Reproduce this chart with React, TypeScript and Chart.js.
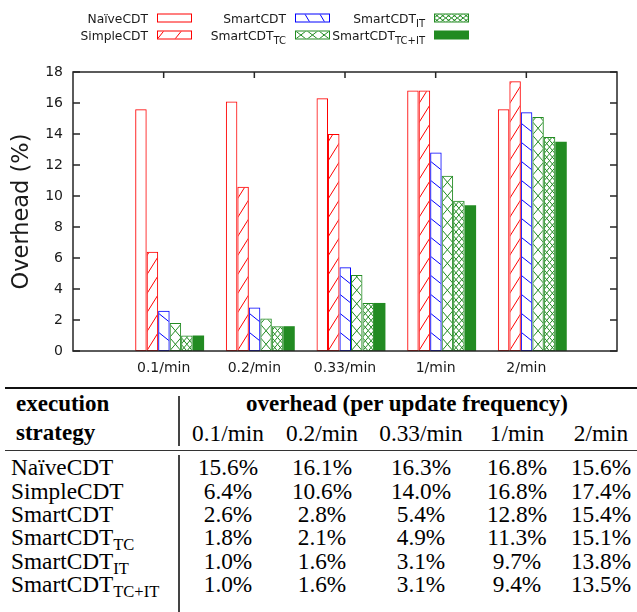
import React, { useEffect, useRef } from 'react';
import { Chart, registerables } from 'chart.js';

Chart.register(...registerables);

// ---------------- data ----------------
const categories = ['0.1/min', '0.2/min', '0.33/min', '1/min', '2/min'];
const naiveCDT = [15.6, 16.1, 16.3, 16.8, 15.6];
const simpleCDT = [6.4, 10.6, 14.0, 16.8, 17.4];
const smartCDT = [2.6, 2.8, 5.4, 12.8, 15.4];
const smartCDT_TC = [1.8, 2.1, 4.9, 11.3, 15.1];
const smartCDT_IT = [1.0, 1.6, 3.1, 9.7, 13.8];
const smartCDT_TCIT = [1.0, 1.6, 3.1, 9.4, 13.5];
const seriesNames = ['NaïveCDT', 'SimpleCDT', 'SmartCDT', 'SmartCDT', 'SmartCDT', 'SmartCDT'];
const seriesSubs = ['', '', '', 'TC', 'IT', 'TC+IT'];
const yTickValues = [0, 2, 4, 6, 8, 10, 12, 14, 16, 18];
const yAxisTitle = 'Overhead (%)';
const tableLeftHeader = ['execution', 'strategy'];
const tableTopHeader = 'overhead (per update frequency)';

// ---------------- styles ----------------
const RED = '#ff0000';
const BLUE = '#0000ff';
const GREEN = '#228b22';
const AXIS = '#262626';
const TEXT = '#1a1a1a';
const SANS = '"DejaVu Sans", Verdana, sans-serif';
const SERIF = '"Liberation Serif", "Times New Roman", serif';

type Hatch =
  | { kind: 'none' }
  | { kind: 'solid' }
  | { kind: 'lines'; m: number; gap: number }
  | { kind: 'cross'; cells: number; p: number };

const seriesValues = [naiveCDT, simpleCDT, smartCDT, smartCDT_TC, smartCDT_IT, smartCDT_TCIT];
const seriesColors = [RED, RED, BLUE, GREEN, GREEN, GREEN];
const barHatches: Hatch[] = [
  { kind: 'none' },
  { kind: 'lines', m: 1.6, gap: 19 },
  { kind: 'lines', m: -0.8, gap: 19 },
  { kind: 'cross', cells: 1, p: 13.5 },
  { kind: 'cross', cells: 2, p: 6.8 },
  { kind: 'solid' },
];
const legendHatches: Hatch[] = [
  { kind: 'none' },
  { kind: 'lines', m: 1.25, gap: 22 },
  { kind: 'lines', m: -1.67, gap: 25 },
  { kind: 'cross', cells: 3, p: 9 },
  { kind: 'cross', cells: 6, p: 4.5 },
  { kind: 'solid' },
];

const CLUSTER_SHIFT = 0.066;

function paintHatch(ctx: CanvasRenderingContext2D, h: Hatch, color: string, L: number, T: number, R: number, B: number) {
  if (h.kind === 'none' || h.kind === 'solid') return;
  const w = R - L;
  const ht = B - T;
  if (w <= 2 || ht <= 2) return;
  ctx.save();
  ctx.beginPath();
  ctx.rect(L + 1, T + 1, w - 2, ht - 2);
  ctx.clip();
  ctx.strokeStyle = color;
  ctx.lineWidth = 1;
  ctx.beginPath();
  if (h.kind === 'lines') {
    const extra = Math.ceil((Math.abs(h.m) * w) / h.gap) + 1;
    const kMax = Math.ceil(ht / h.gap) + extra;
    for (let k = -extra; k <= kMax; k++) {
      const y0 = B - k * h.gap;
      ctx.moveTo(L, y0);
      ctx.lineTo(R, y0 - h.m * w);
    }
  } else {
    const cw = w / h.cells;
    for (let c = 0; c < h.cells; c++) {
      const cx = L + c * cw;
      for (let k = 0; B - k * h.p > T - h.p; k++) {
        const cy = B - k * h.p;
        ctx.moveTo(cx, cy);
        ctx.lineTo(cx + cw, cy - h.p);
        ctx.moveTo(cx, cy - h.p);
        ctx.lineTo(cx + cw, cy);
      }
    }
  }
  ctx.stroke();
  ctx.restore();
}

const hatchPlugin = {
  id: 'barHatch',
  afterDatasetDraw(chart: any, args: any) {
    const h = barHatches[args.index];
    if (!h || h.kind === 'none' || h.kind === 'solid') return;
    const ctx = chart.ctx as CanvasRenderingContext2D;
    args.meta.data.forEach((el: any) => {
      const { x, y, base, width } = el.getProps(['x', 'y', 'base', 'width'], true);
      const L = x - width / 2;
      const R = x + width / 2;
      const T = Math.min(y, base);
      const B = Math.max(y, base);
      paintHatch(ctx, h, seriesColors[args.index], L, T, R, B);
    });
  },
};

const framePlugin = {
  id: 'frame',
  afterDatasetsDraw(chart: any) {
    const { ctx, chartArea: a, scales } = chart;
    const xs = scales.x;
    const ys = scales.y;
    ctx.save();
    ctx.strokeStyle = AXIS;
    ctx.lineWidth = 1.5;
    ctx.beginPath();
    yTickValues.forEach((v) => {
      const py = ys.getPixelForValue(v);
      ctx.moveTo(a.left, py);
      ctx.lineTo(a.left + 7, py);
      ctx.moveTo(a.right, py);
      ctx.lineTo(a.right - 7, py);
    });
    categories.forEach((_, i) => {
      const px = xs.getPixelForValue(i);
      ctx.moveTo(px, a.top);
      ctx.lineTo(px, a.top + 6);
    });
    ctx.stroke();
    ctx.strokeRect(a.left, a.top, a.right - a.left, a.bottom - a.top);
    ctx.restore();
  },
};

const LEGEND_SWATCH_X = [157, 295, 434];
const LEGEND_ROW_TOP = [13.5, 30.5];
const LEGEND_BASELINE = [22.7, 40.3];
const SWATCH_W = 35;
const SWATCH_H = 9;

const legendPlugin = {
  id: 'cdtLegend',
  afterDraw(chart: any) {
    const ctx = chart.ctx as CanvasRenderingContext2D;
    ctx.save();
    seriesNames.forEach((name, d) => {
      const col = Math.floor(d / 2);
      const row = d % 2;
      const sx = LEGEND_SWATCH_X[col];
      const sy = LEGEND_ROW_TOP[row];
      const color = seriesColors[d];
      const h = legendHatches[d];
      if (h.kind === 'solid') {
        ctx.fillStyle = color;
        ctx.fillRect(sx, sy, SWATCH_W, SWATCH_H);
      } else {
        ctx.fillStyle = '#fff';
        ctx.fillRect(sx, sy, SWATCH_W, SWATCH_H);
        paintHatch(ctx, h, color, sx, sy, sx + SWATCH_W, sy + SWATCH_H);
        ctx.strokeStyle = color;
        ctx.lineWidth = 1;
        ctx.strokeRect(sx + 0.5, sy + 0.5, SWATCH_W - 1, SWATCH_H - 1);
      }
      const sub = seriesSubs[d];
      const right = sx - 9;
      const base = LEGEND_BASELINE[row];
      ctx.fillStyle = TEXT;
      ctx.textBaseline = 'alphabetic';
      ctx.textAlign = 'left';
      ctx.font = `10px ${SANS}`;
      const subW = sub ? ctx.measureText(sub).width : 0;
      ctx.font = `12.3px ${SANS}`;
      const mainW = ctx.measureText(name).width;
      const startX = right - subW - mainW;
      ctx.fillText(name, startX, base);
      if (sub) {
        ctx.font = `10px ${SANS}`;
        ctx.fillText(sub, startX + mainW, base + 4);
      }
    });
    ctx.restore();
  },
};

function buildConfig(): any {
  return {
    type: 'bar',
    data: {
      datasets: seriesValues.map((vals, d) => ({
        label: seriesNames[d] + seriesSubs[d],
        data: vals.map((v, i) => ({ x: i + CLUSTER_SHIFT, y: v })),
        backgroundColor: barHatches[d].kind === 'solid' ? seriesColors[d] : 'rgba(255,255,255,0)',
        borderColor: seriesColors[d],
        borderWidth: barHatches[d].kind === 'solid' ? 0 : 1,
        borderSkipped: false,
        categoryPercentage: 0.76,
        barPercentage: 1,
      })),
    },
    options: {
      responsive: false,
      maintainAspectRatio: false,
      animation: false,
      events: [],
      layout: { padding: { top: 72, right: 20, left: 0, bottom: 0 } },
      plugins: {
        legend: { display: false },
        tooltip: { enabled: false },
        title: { display: false },
      },
      scales: {
        x: {
          type: 'linear',
          min: -1,
          max: 5,
          offset: false,
          grid: { display: false, drawTicks: false },
          border: { display: false },
          ticks: {
            stepSize: 1,
            autoSkip: false,
            maxRotation: 0,
            padding: 9,
            color: TEXT,
            font: { family: SANS, size: 14 },
            callback: (v: number) => (Number.isInteger(v) && categories[v] !== undefined ? categories[v] : ''),
          },
          afterFit: (s: any) => {
            s.height = 29;
          },
        },
        y: {
          type: 'linear',
          min: 0,
          max: 18,
          grid: { display: false, drawTicks: false },
          border: { display: false },
          ticks: {
            stepSize: 2,
            padding: 10,
            color: TEXT,
            font: { family: SANS, size: 14 },
          },
          afterBuildTicks: (s: any) => {
            s.ticks = yTickValues.map((v) => ({ value: v }));
          },
          title: {
            display: true,
            text: yAxisTitle,
            color: TEXT,
            font: { family: SANS, size: 22.5 },
            padding: { top: 9, bottom: 0 },
          },
          afterFit: (s: any) => {
            s.width = 73;
          },
        },
      },
    },
    plugins: [hatchPlugin, framePlugin, legendPlugin],
  };
}

// ---------------- table ----------------
const TABLE_FONT_SIZE = 23.3;
const TABLE_BOLD_SIZE = 23;
const TABLE_SUB_SIZE = 16.5;
const COL_CENTERS = [228, 322, 421, 517, 601];
const ROW_BASELINES = [475.5, 498.9, 522.3, 545.7, 569.1, 592.5];

function TText(props: { x: number; baseline: number; center?: boolean; bold?: boolean; children: any }) {
  const { x, baseline, center, bold, children } = props;
  const size = bold ? TABLE_BOLD_SIZE : TABLE_FONT_SIZE;
  const lh = Math.ceil(size * 1.12);
  const top = baseline - 0.891 * size - (lh - 1.107 * size) / 2;
  const style: any = {
    position: 'absolute',
    top,
    lineHeight: lh + 'px',
    fontFamily: SERIF,
    fontSize: size,
    fontWeight: bold ? 'bold' : 'normal',
    color: '#000',
    whiteSpace: 'nowrap',
  };
  if (center) {
    style.left = x - 200;
    style.width = 400;
    style.textAlign = 'center';
  } else {
    style.left = x;
  }
  return <div style={style}>{children}</div>;
}

function Sub({ children }: { children: any }) {
  return <span style={{ fontSize: TABLE_SUB_SIZE, position: 'relative', top: 5 }}>{children}</span>;
}

function DataTable() {
  return (
    <>
      <div style={{ position: 'absolute', left: 5, top: 387, width: 632, height: 2, background: '#111' }} />
      <div style={{ position: 'absolute', left: 5, top: 449.5, width: 632, height: 1.5, background: '#333' }} />
      <div style={{ position: 'absolute', left: 178, top: 396, width: 1.7, height: 50, background: '#444' }} />
      <div style={{ position: 'absolute', left: 178, top: 455, width: 1.7, height: 157, background: '#444' }} />
      <TText x={16} baseline={412} bold>{tableLeftHeader[0]}</TText>
      <TText x={16} baseline={441} bold>{tableLeftHeader[1]}</TText>
      <TText x={407} baseline={412} center bold>{tableTopHeader}</TText>
      {categories.map((c, i) => (
        <TText key={c} x={COL_CENTERS[i]} baseline={441} center>{c}</TText>
      ))}
      {seriesNames.map((name, d) => (
        <React.Fragment key={d}>
          <TText x={11} baseline={ROW_BASELINES[d]}>
            {name}
            {seriesSubs[d] ? <Sub>{seriesSubs[d]}</Sub> : null}
          </TText>
          {seriesValues[d].map((v, i) => (
            <TText key={i} x={COL_CENTERS[i]} baseline={ROW_BASELINES[d]} center>
              {v.toFixed(1) + '%'}
            </TText>
          ))}
        </React.Fragment>
      ))}
    </>
  );
}

export default function App() {
  const ref = useRef<HTMLCanvasElement>(null);
  useEffect(() => {
    document.body.style.margin = '0';
    const chart = new Chart(ref.current as HTMLCanvasElement, buildConfig());
    return () => chart.destroy();
  }, []);
  return (
    <div style={{ position: 'relative', width: 637, height: 612, overflow: 'hidden', background: '#fff' }}>
      <canvas ref={ref} width={637} height={380} style={{ position: 'absolute', left: 0, top: 0, width: 637, height: 380 }} />
      <DataTable />
    </div>
  );
}
